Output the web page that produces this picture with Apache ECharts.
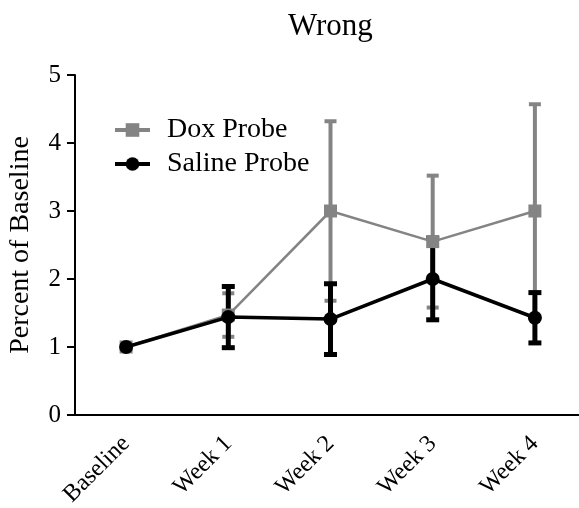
<!DOCTYPE html>
<html>
<head>
<meta charset="utf-8">
<script src="https://cdn.jsdelivr.net/npm/echarts@6/dist/echarts.min.js"></script>
<style>
  html, body { margin: 0; padding: 0; background: #fff; }
  #chart { width: 579px; height: 508px; }
</style>
</head>
<body>
<div id="chart"></div>
<script>
// Time points on the x axis
var categories = ['Baseline', 'Week 1', 'Week 2', 'Week 3', 'Week 4'];

// Dox probe: mean and error (± half-range)
var doxMean = [1.0, 1.47, 3.0, 2.55, 3.0];
var doxErr  = [0, 0.32, 1.32, 0.97, 1.57];

// Saline probe: mean and error
var salineMean = [1.0, 1.44, 1.41, 2.0, 1.43];
var salineErr  = [0, 0.45, 0.52, 0.6, 0.37];

var yTicks = [0, 1, 2, 3, 4, 5];

var GRAY = '#848484';
var BLACK = '#000000';
var FONT = "'Liberation Serif', 'Times New Roman', serif";

function errData(mean, err) {
  return mean.map(function (m, i) { return [i, m - err[i], m + err[i]]; })
             .filter(function (d, i) { return err[i] > 0; });
}

// Vertical error bars with caps, drawn through the axis scales
function errSeries(name, mean, err, color, lw, capW) {
  return {
    type: 'custom',
    name: name,
    data: errData(mean, err),
    encode: { x: 0, y: [1, 2] },
    silent: true,
    renderItem: function (params, api) {
      var x = api.value(0);
      var lo = api.coord([x, api.value(1)]);
      var hi = api.coord([x, api.value(2)]);
      var half = capW / 2;
      var style = { stroke: color, lineWidth: lw, fill: null };
      return {
        type: 'group',
        children: [
          { type: 'line', shape: { x1: lo[0], y1: lo[1], x2: hi[0], y2: hi[1] }, style: style },
          { type: 'line', shape: { x1: hi[0] - half, y1: hi[1], x2: hi[0] + half, y2: hi[1] }, style: style },
          { type: 'line', shape: { x1: lo[0] - half, y1: lo[1], x2: lo[0] + half, y2: lo[1] }, style: style }
        ]
      };
    }
  };
}

var chart = echarts.init(document.getElementById('chart'));
chart.setOption({
  animation: false,
  backgroundColor: '#ffffff',
  title: {
    text: 'Wrong',
    left: 283,
    top: 6,
    textStyle: { fontFamily: FONT, fontSize: 31, fontWeight: 'normal', color: '#000' }
  },
  legend: {
    orient: 'vertical',
    left: 108,
    top: 111,
    itemWidth: 35,
    itemHeight: 17,
    itemGap: 6,
    lineStyle: { width: 4 },
    data: ['Dox Probe', 'Saline Probe'],
    textStyle: { fontFamily: FONT, fontSize: 28, color: '#000', padding: [0, 0, 0, 12] }
  },
  grid: { left: 75, top: 75, width: 511, height: 340, outerBoundsMode: 'none', containLabel: false },
  xAxis: {
    type: 'category',
    data: categories,
    boundaryGap: true,
    axisLine: { lineStyle: { color: '#000', width: 2 } },
    axisTick: { alignWithLabel: true, length: 8, lineStyle: { width: 2, color: '#000' } },
    axisLabel: { rotate: 45, fontFamily: FONT, fontSize: 24, color: '#000', margin: 25 },
    splitLine: { show: false }
  },
  yAxis: {
    type: 'value',
    min: yTicks[0],
    max: yTicks[yTicks.length - 1],
    interval: 1,
    name: 'Percent of Baseline',
    nameLocation: 'middle',
    nameGap: 40,
    nameTextStyle: { fontFamily: FONT, fontSize: 28, color: '#000' },
    axisLine: { show: true, lineStyle: { color: '#000', width: 2 } },
    axisTick: { show: true, length: 8, lineStyle: { width: 2, color: '#000' } },
    axisLabel: { fontFamily: FONT, fontSize: 25, color: '#000', margin: 14 },
    splitLine: { show: false }
  },
  series: [
    errSeries('Dox Probe error', doxMean, doxErr, GRAY, 4, 12),
    {
      name: 'Dox Probe',
      type: 'line',
      data: doxMean,
      symbol: 'rect',
      symbolSize: 13,
      lineStyle: { color: GRAY, width: 2.5 },
      itemStyle: { color: GRAY },
      z: 3
    },
    errSeries('Saline Probe error', salineMean, salineErr, BLACK, 5, 13),
    {
      name: 'Saline Probe',
      type: 'line',
      data: salineMean,
      symbol: 'circle',
      symbolSize: 14,
      lineStyle: { color: BLACK, width: 3.5 },
      itemStyle: { color: BLACK },
      z: 4
    }
  ]
});
</script>
</body>
</html>
